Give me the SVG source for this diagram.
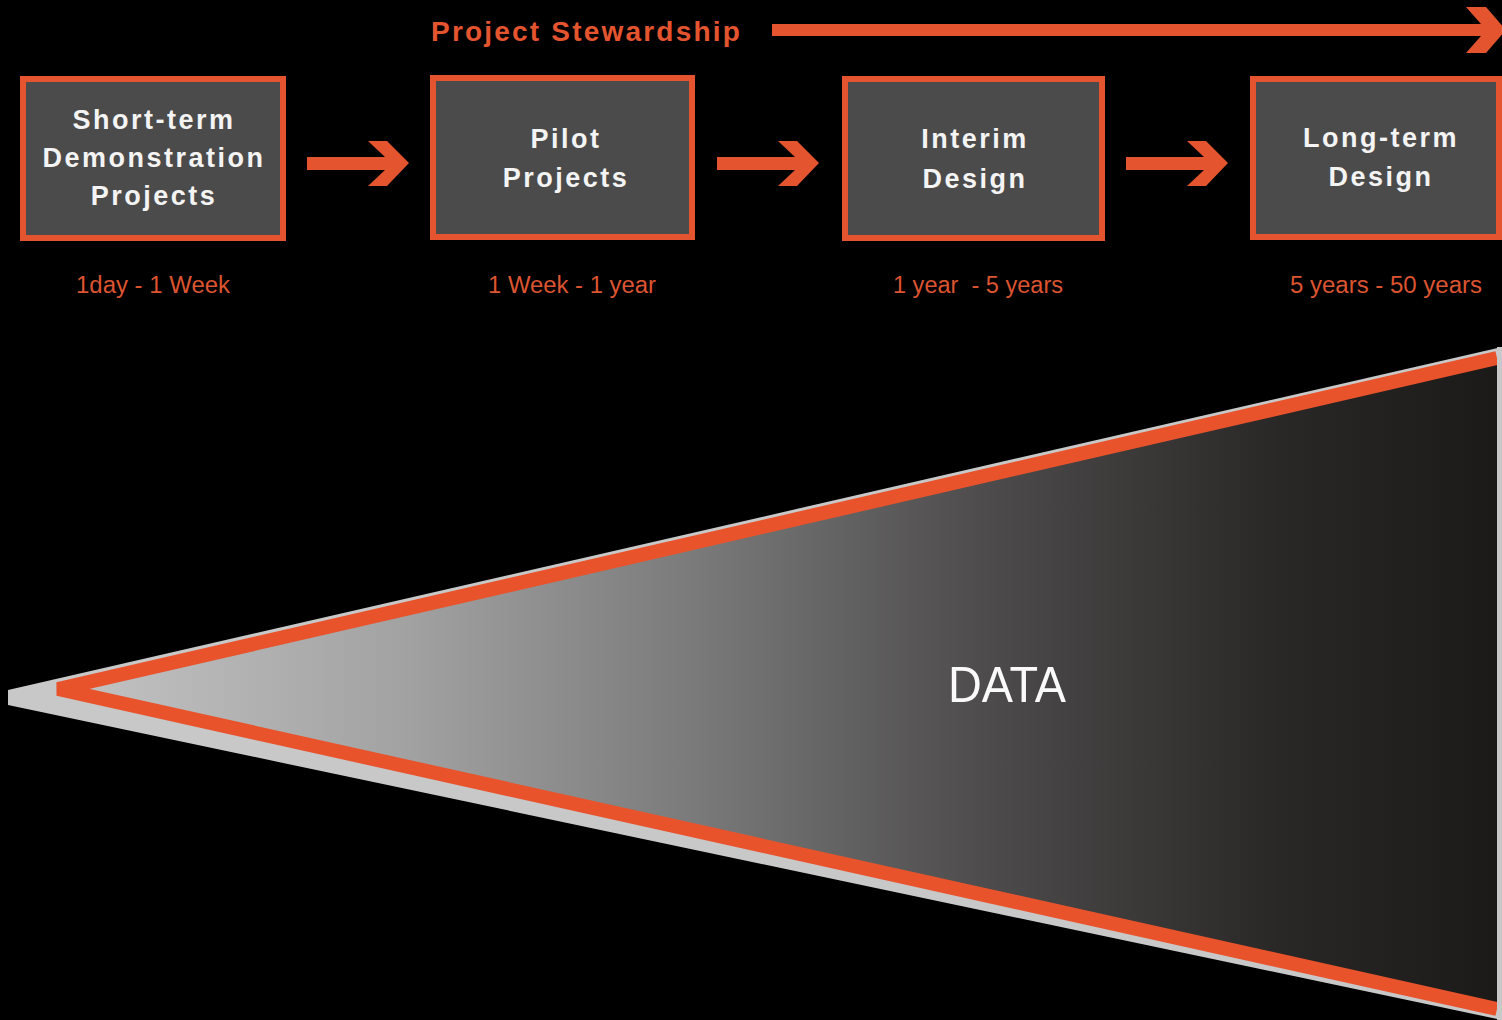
<svg xmlns="http://www.w3.org/2000/svg" width="1502" height="1020" viewBox="0 0 1502 1020">
<defs>
<style>
.box{fill:#4b4b4b;stroke:#e4552f;stroke-width:6}
.bt{font-family:"Liberation Sans",Arial,sans-serif;font-weight:bold;font-size:27px;letter-spacing:2.5px;fill:#f4f4f4;text-anchor:middle}
.tl{font-family:"Liberation Sans",Arial,sans-serif;font-size:23px;fill:#dc5430;text-anchor:middle}
.arr{fill:#e4552f}
</style>
<linearGradient id="g" gradientUnits="userSpaceOnUse" x1="40" y1="0" x2="1497" y2="0">
<stop offset="0" stop-color="#c6c6c6"/>
<stop offset="0.25" stop-color="#a2a2a2"/>
<stop offset="0.45" stop-color="#7a7a7a"/>
<stop offset="0.65" stop-color="#4d4b4b"/>
<stop offset="0.85" stop-color="#2a2727"/>
<stop offset="1" stop-color="#1c1919"/>
</linearGradient>
</defs>
<rect width="1502" height="1020" fill="#000"/>

<g id="title">
<text x="431" y="41" style="font-family:'Liberation Sans',Arial,sans-serif;font-weight:bold;font-size:28px;letter-spacing:2.2px;fill:#e4552f">Project Stewardship</text>
</g>

<g id="connectors">
<polygon class="arr" points="772,24 1481,24 1466,7 1486,7 1506,30 1486,53 1466,53 1481,36 772,36"/>
<polygon class="arr" points="307,157 385,157 368,141 387,141 409,163 387,186 368,186 385,170 307,170"/>
<polygon class="arr" transform="translate(410,0)" points="307,157 385,157 368,141 387,141 409,163 387,186 368,186 385,170 307,170"/>
<polygon class="arr" transform="translate(819,0)" points="307,157 385,157 368,141 387,141 409,163 387,186 368,186 385,170 307,170"/>
</g>

<g id="node-short-term">
<rect class="box" x="23" y="79" width="260" height="159"/>
<text class="bt" x="154" y="129">Short-term</text>
<text class="bt" x="154" y="167">Demonstration</text>
<text class="bt" x="154" y="205">Projects</text>
<text class="tl" x="153" y="293" textLength="154" lengthAdjust="spacingAndGlyphs">1day - 1 Week</text>
</g>

<g id="node-pilot">
<rect class="box" x="433" y="78" width="259" height="159"/>
<text class="bt" x="566" y="148">Pilot</text>
<text class="bt" x="566" y="187">Projects</text>
<text class="tl" x="572" y="293" textLength="168" lengthAdjust="spacingAndGlyphs">1 Week - 1 year</text>
</g>

<g id="node-interim">
<rect class="box" x="845" y="79" width="257" height="159"/>
<text class="bt" x="975" y="148">Interim</text>
<text class="bt" x="975" y="188">Design</text>
<text class="tl" x="978" y="293" textLength="170" lengthAdjust="spacingAndGlyphs" xml:space="preserve">1 year  - 5 years</text>
</g>

<g id="node-long-term">
<rect class="box" x="1253" y="79" width="246" height="158"/>
<text class="bt" x="1381" y="147">Long-term</text>
<text class="bt" x="1381" y="186">Design</text>
<text class="tl" x="1386" y="293" textLength="192" lengthAdjust="spacingAndGlyphs">5 years - 50 years</text>
</g>

<g id="data-wedge">
<polygon points="8,690 1502,347 1502,1020 8,705" fill="#c8c8c8"/>
<polygon points="1497,358 58,689 1497,1009" fill="url(#g)"/>
<polyline points="1497,358 58,689 1497,1009" fill="none" stroke="#e8532c" stroke-width="14" stroke-linejoin="bevel"/>
<rect x="1497" y="347" width="5" height="673" fill="#c8c8c8"/>
<text x="1007" y="702" style="font-family:'Liberation Sans',Arial,sans-serif;font-size:50px;fill:#fafafa;text-anchor:middle" textLength="118" lengthAdjust="spacingAndGlyphs">DATA</text>
</g>
</svg>
